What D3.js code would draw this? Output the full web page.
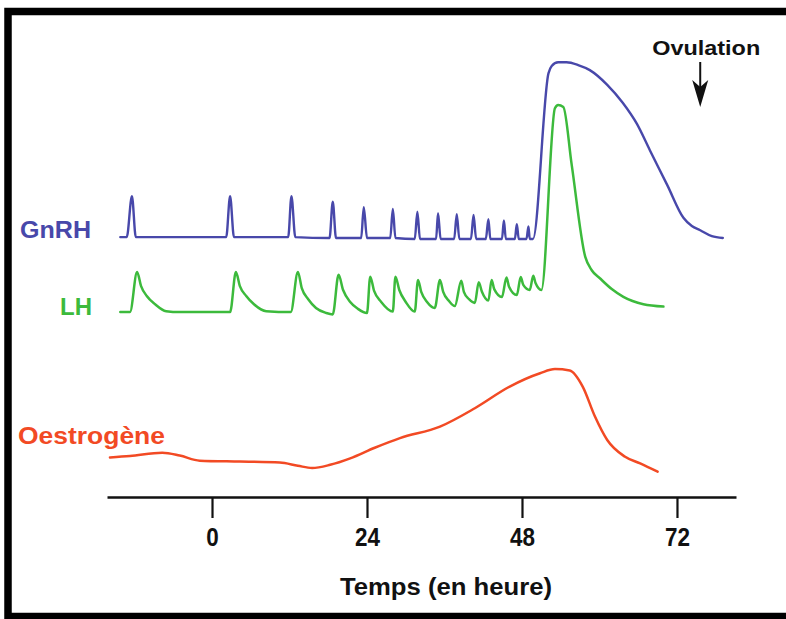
<!DOCTYPE html>
<html>
<head>
<meta charset="utf-8">
<script src="https://cdn.jsdelivr.net/npm/d3@7"></script>
<style>
    body { margin: 0; background: #fff; }
    svg { display: block; }
    .hormone_line { fill: none; stroke-linejoin: round; stroke-linecap: round; }
    .chart_text { font-family: "Liberation Sans", Arial, sans-serif; font-weight: bold; }
</style>
</head>
<body>
<svg id="chart" width="786" height="619"></svg>
<script>

// time in hours, level in arbitrary units (0 = time axis)
const gnrh = [
    [-14.2, 56.5], [-13.2, 56.5], [-12.4, 65.4], [-11.8, 56.5],
    [2.2, 56.5], [2.8, 65.4], [3.4, 56.5],
    [11.8, 56.5], [12.3, 65.4], [12.9, 56.5],
    [18.2, 56.3], [18.7, 64.2], [19.2, 56.3],
    [23.1, 56.3], [23.5, 63.0], [24.0, 56.3],
    [27.6, 56.3], [28.0, 62.6], [28.4, 56.3],
    [31.4, 56.1], [31.8, 62.0], [32.2, 56.1],
    [34.7, 56.1], [35.0, 61.7], [35.4, 56.1],
    [37.5, 56.1], [37.9, 61.5], [38.3, 56.1],
    [40.1, 56.1], [40.5, 61.3], [40.9, 56.1],
    [42.4, 56.1], [42.8, 60.4], [43.1, 56.1],
    [44.9, 56.1], [45.2, 60.1], [45.5, 56.1],
    [46.9, 56.1], [47.2, 59.3], [47.5, 56.1],
    [48.7, 56.1], [49.0, 58.8], [49.2, 56.1],
    [49.7, 56.1], [52.1, 92.1], [52.6, 93.7], [53.6, 94.5], [54.9, 94.5],
    [56.7, 93.9], [58.5, 92.8], [61.2, 89.6], [63.6, 85.7], [65.8, 81.1],
    [67.8, 75.4], [70.5, 67.8], [73.0, 60.7], [74.3, 58.9], [75.6, 58.0],
    [77.4, 56.7], [79.1, 56.3]
];

const lh = [
    [-14.2, 40.2], [-12.7, 40.2], [-11.6, 48.9], [-11.0, 45.9], [-10.1, 43.7],
    [-8.8, 41.9], [-7.1, 40.4], [-5.0, 40.2],
    [2.8, 40.2], [3.7, 48.9], [4.3, 45.9], [5.3, 43.7], [6.5, 41.9], [8.4, 40.4],
    [12.2, 40.2], [13.3, 48.9], [13.9, 45.4], [14.9, 43.0], [16.1, 41.1], [17.7, 40.0],
    [18.7, 39.7], [19.6, 48.3], [20.3, 45.0], [21.4, 42.4], [22.6, 40.9],
    [24.0, 40.0], [24.5, 47.9], [25.1, 44.8], [26.2, 42.4],
    [28.0, 40.3], [28.4, 47.9], [29.0, 45.0], [30.0, 42.4],
    [31.4, 40.3], [31.9, 47.2], [32.4, 44.6], [33.3, 42.4],
    [34.5, 41.1], [35.3, 47.2], [35.8, 44.6], [36.7, 42.6],
    [37.6, 41.5], [38.6, 47.0], [39.0, 44.6], [39.8, 43.0],
    [40.7, 42.2], [41.3, 46.7], [41.8, 44.6],
    [42.8, 42.7], [43.3, 47.2], [43.7, 45.2],
    [44.9, 43.5], [45.6, 47.7], [46.0, 45.7],
    [47.2, 43.9], [47.8, 47.8], [48.2, 46.1],
    [49.2, 45.0], [49.75, 48.1], [50.1, 46.5],
    [51.0, 45.0], [53.1, 84.5], [53.6, 85.2], [54.4, 84.8], [55.7, 72.2],
    [57.8, 52.2], [58.8, 49.3], [60.1, 47.5], [61.9, 45.2], [63.7, 43.5],
    [66.8, 41.9], [69.9, 41.4]
];

const oestrogene = [
    [-15.8, 8.6], [-12.7, 8.9], [-7.7, 9.6], [-5.0, 9.0], [-1.9, 7.9],
    [4.3, 7.7], [10.5, 7.5], [13.3, 6.8], [15.5, 6.3], [18.3, 7.0],
    [21.4, 8.4], [25.2, 10.7], [29.1, 12.8], [35.3, 15.3], [40.7, 19.3],
    [46.1, 24.0], [50.8, 26.9], [53.1, 27.8], [55.4, 27.5], [57.4, 24.0],
    [59.3, 17.5], [61.2, 12.4], [63.9, 8.8], [66.3, 7.3], [69.0, 5.5]
];

const tick_hours = [0, 24, 48, 72];
const ovulation_hour = 75.6;

const svg = d3.select('#chart');

// frame
svg.append('rect')
    .attr('x', 8)
    .attr('y', 11.5)
    .attr('width', 800)
    .attr('height', 605)
    .attr('fill', 'none')
    .attr('stroke', '#000')
    .attr('stroke-width', 7.5);

const x = d3.scaleLinear().domain([-16.26, 81.14]).range([107, 736]);
const y = d3.scaleLinear().domain([0, 100]).range([497, 37]);

const line = d3.line()
    .x((d) => x(d[0]))
    .y((d) => y(d[1]))
    .curve(d3.curveMonotoneX);

// time axis
const axis = svg.append('g')
    .attr('transform', 'translate(0,' + y(0) + ')')
    .call(d3.axisBottom(x)
        .tickValues(tick_hours)
        .tickSize(21)
        .tickSizeOuter(0)
        .tickPadding(10)
        .tickFormat(d3.format('d')));

axis.attr('font-size', null).attr('font-family', null);
axis.select('.domain').attr('stroke', '#111').attr('stroke-width', 2.5);
axis.selectAll('.tick line').attr('stroke', '#111').attr('stroke-width', 2.2);
axis.selectAll('.tick text')
    .attr('class', 'chart_text')
    .attr('fill', '#111')
    .attr('font-size', 25)
    .attr('textLength', (d) => String(d).length * 12.5)
    .attr('lengthAdjust', 'spacingAndGlyphs');

svg.append('text')
    .attr('class', 'chart_text')
    .attr('x', 340)
    .attr('y', 595)
    .attr('textLength', 212)
    .attr('lengthAdjust', 'spacingAndGlyphs')
    .style('font-size', '23px')
    .attr('fill', '#111')
    .text('Temps (en heure)');

// hormone curves
const series = [
    { name: 'GnRH', data: gnrh, color: '#4848aa', width: 2.4, lx: 20, ly: 238, len: 71, size: 23 },
    { name: 'LH', data: lh, color: '#3cba3c', width: 2.5, lx: 60, ly: 315, len: 32, size: 24 },
    { name: 'Oestrogène', data: oestrogene, color: '#f24a24', width: 2.5, lx: 18, ly: 444, len: 147, size: 23 }
];

svg.append('g')
    .selectAll('.hormone_line')
    .data(series)
    .enter()
    .append('path')
    .attr('class', 'hormone_line')
    .attr('d', (d) => line(d.data))
    .attr('stroke', (d) => d.color)
    .attr('stroke-width', (d) => d.width);

svg.append('g')
    .selectAll('.hormone_label')
    .data(series)
    .enter()
    .append('text')
    .attr('class', 'chart_text')
    .attr('x', (d) => d.lx)
    .attr('y', (d) => d.ly)
    .attr('textLength', (d) => d.len)
    .attr('lengthAdjust', 'spacingAndGlyphs')
    .style('font-size', (d) => d.size + 'px')
    .attr('fill', (d) => d.color)
    .text((d) => d.name);

// ovulation marker
const ox = x(ovulation_hour);

svg.append('text')
    .attr('class', 'chart_text')
    .attr('x', ox - 48)
    .attr('y', 55)
    .attr('textLength', 108)
    .attr('lengthAdjust', 'spacingAndGlyphs')
    .style('font-size', '21px')
    .attr('fill', '#111')
    .text('Ovulation');

svg.append('line')
    .attr('x1', ox).attr('x2', ox)
    .attr('y1', 62).attr('y2', 92)
    .attr('stroke', '#111')
    .attr('stroke-width', 2);

svg.append('path')
    .attr('d', 'M' + (ox - 8) + ',80 L' + ox + ',107 L' + (ox + 8) + ',80 L' + ox + ',87 Z')
    .attr('fill', '#111');

</script>
</body>
</html>
